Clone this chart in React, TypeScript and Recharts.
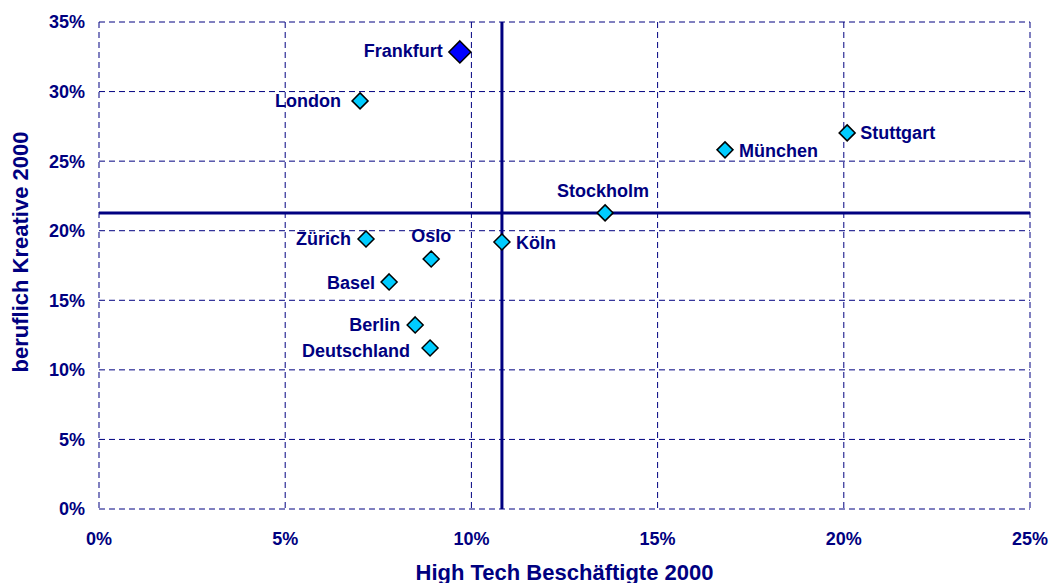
import { ScatterChart, Scatter, XAxis, YAxis, CartesianGrid, ReferenceLine, LabelList } from 'recharts';

// Städte / Regionen
const cities = ['Frankfurt', 'London', 'Stuttgart', 'München', 'Stockholm', 'Zürich', 'Köln', 'Oslo', 'Basel', 'Berlin', 'Deutschland'];
// Anteil High Tech Beschäftigte 2000
const highTech = [0.0969, 0.0701, 0.2009, 0.1681, 0.1359, 0.0717, 0.1082, 0.0892, 0.0779, 0.0849, 0.0889];
// Anteil beruflich Kreative 2000
const kreative = [0.3285, 0.2933, 0.2703, 0.2581, 0.2128, 0.1941, 0.1919, 0.1797, 0.1632, 0.1323, 0.1157];

const xTicks = [0, 0.05, 0.1, 0.15, 0.2, 0.25];
const yTicks = [0, 0.05, 0.1, 0.15, 0.2, 0.25, 0.3, 0.35];

// Durchschnittslinien
const avgHighTech = 0.1082;
const avgKreative = 0.2128;

const NAVY = '#000080';
const FONT = '"Liberation Sans", Arial, sans-serif';

// wo der Name neben dem Punkt steht
const labelSide: Record<string, { dx: number; dy: number; anchor: 'start' | 'middle' | 'end' }> = {
  Frankfurt: { dx: -17, dy: -1, anchor: 'end' },
  London: { dx: -19, dy: 0, anchor: 'end' },
  Stuttgart: { dx: 13, dy: 0, anchor: 'start' },
  München: { dx: 14, dy: 1, anchor: 'start' },
  Stockholm: { dx: -2, dy: -22, anchor: 'middle' },
  Zürich: { dx: -15, dy: 0, anchor: 'end' },
  Köln: { dx: 14, dy: 1, anchor: 'start' },
  Oslo: { dx: 0, dy: -23, anchor: 'middle' },
  Basel: { dx: -14, dy: 1, anchor: 'end' },
  Berlin: { dx: -15, dy: 0, anchor: 'end' },
  Deutschland: { dx: -20, dy: 3, anchor: 'end' },
};

const points = cities
  .map((name, i) => ({ name, x: highTech[i], y: kreative[i] }))
  .filter((p) => p.name !== 'Frankfurt');
const frankfurt = cities
  .map((name, i) => ({ name, x: highTech[i], y: kreative[i] }))
  .filter((p) => p.name === 'Frankfurt');

const pct = (v: number) => `${Math.round(v * 100)}%`;

function Diamond(props: any) {
  const { cx, cy, r, fill } = props;
  return (
    <polygon
      points={`${cx},${cy - r} ${cx + r},${cy} ${cx},${cy + r} ${cx - r},${cy}`}
      fill={fill}
      stroke="#000"
      strokeWidth={1.5}
    />
  );
}

function CityLabel(props: any) {
  const { x, y, width, height, value } = props;
  const cx = x + width / 2;
  const cy = y + height / 2;
  const s = labelSide[value] || { dx: 12, dy: 0, anchor: 'start' };
  return (
    <text
      x={cx + s.dx}
      y={cy + s.dy}
      textAnchor={s.anchor}
      dominantBaseline="central"
      fill={NAVY}
      fontFamily={FONT}
      fontWeight="bold"
      fontSize={18}
    >
      {value}
    </text>
  );
}

export default function App() {
  return (
    <div style={{ position: 'absolute', left: 0, top: 0, background: '#fff' }}>
      <ScatterChart width={1052} height={583} margin={{ top: 22, right: 22, bottom: 0, left: 0 }}>
        <CartesianGrid stroke={NAVY} strokeDasharray="6 4" strokeWidth={1} />
        <XAxis
          type="number"
          dataKey="x"
          domain={[0, 0.25]}
          ticks={xTicks}
          tickFormatter={pct}
          axisLine={false}
          tickLine={false}
          tickSize={0}
          tickMargin={23}
          height={74}
          tick={{ fill: NAVY, fontFamily: FONT, fontWeight: 'bold', fontSize: 18 }}
          label={(p: any) => (
            <text
              x={p.viewBox.x + p.viewBox.width / 2}
              y={572}
              textAnchor="middle"
              dominantBaseline="central"
              fill={NAVY}
              fontFamily={FONT}
              fontWeight="bold"
              fontSize={22}
            >
              High Tech Beschäftigte 2000
            </text>
          )}
        />
        <YAxis
          type="number"
          dataKey="y"
          domain={[0, 0.35]}
          ticks={yTicks}
          tickFormatter={pct}
          axisLine={false}
          tickLine={false}
          tickSize={0}
          tickMargin={14}
          width={99}
          tick={{ fill: NAVY, fontFamily: FONT, fontWeight: 'bold', fontSize: 18 }}
          label={() => (
            <text
              x={20}
              y={252}
              transform="rotate(-90, 20, 252)"
              textAnchor="middle"
              dominantBaseline="central"
              fill={NAVY}
              fontFamily={FONT}
              fontWeight="bold"
              fontSize={22}
            >
              beruflich Kreative 2000
            </text>
          )}
        />
        <ReferenceLine x={avgHighTech} stroke={NAVY} strokeWidth={3} />
        <ReferenceLine y={avgKreative} stroke={NAVY} strokeWidth={3} />
        <Scatter data={points} fill="#00CCFF" isAnimationActive={false} shape={(p: any) => <Diamond {...p} r={8} />}>
          <LabelList dataKey="name" content={CityLabel} />
        </Scatter>
        <Scatter data={frankfurt} fill="#0000FF" isAnimationActive={false} shape={(p: any) => <Diamond {...p} r={11} />}>
          <LabelList dataKey="name" content={CityLabel} />
        </Scatter>
      </ScatterChart>
    </div>
  );
}
